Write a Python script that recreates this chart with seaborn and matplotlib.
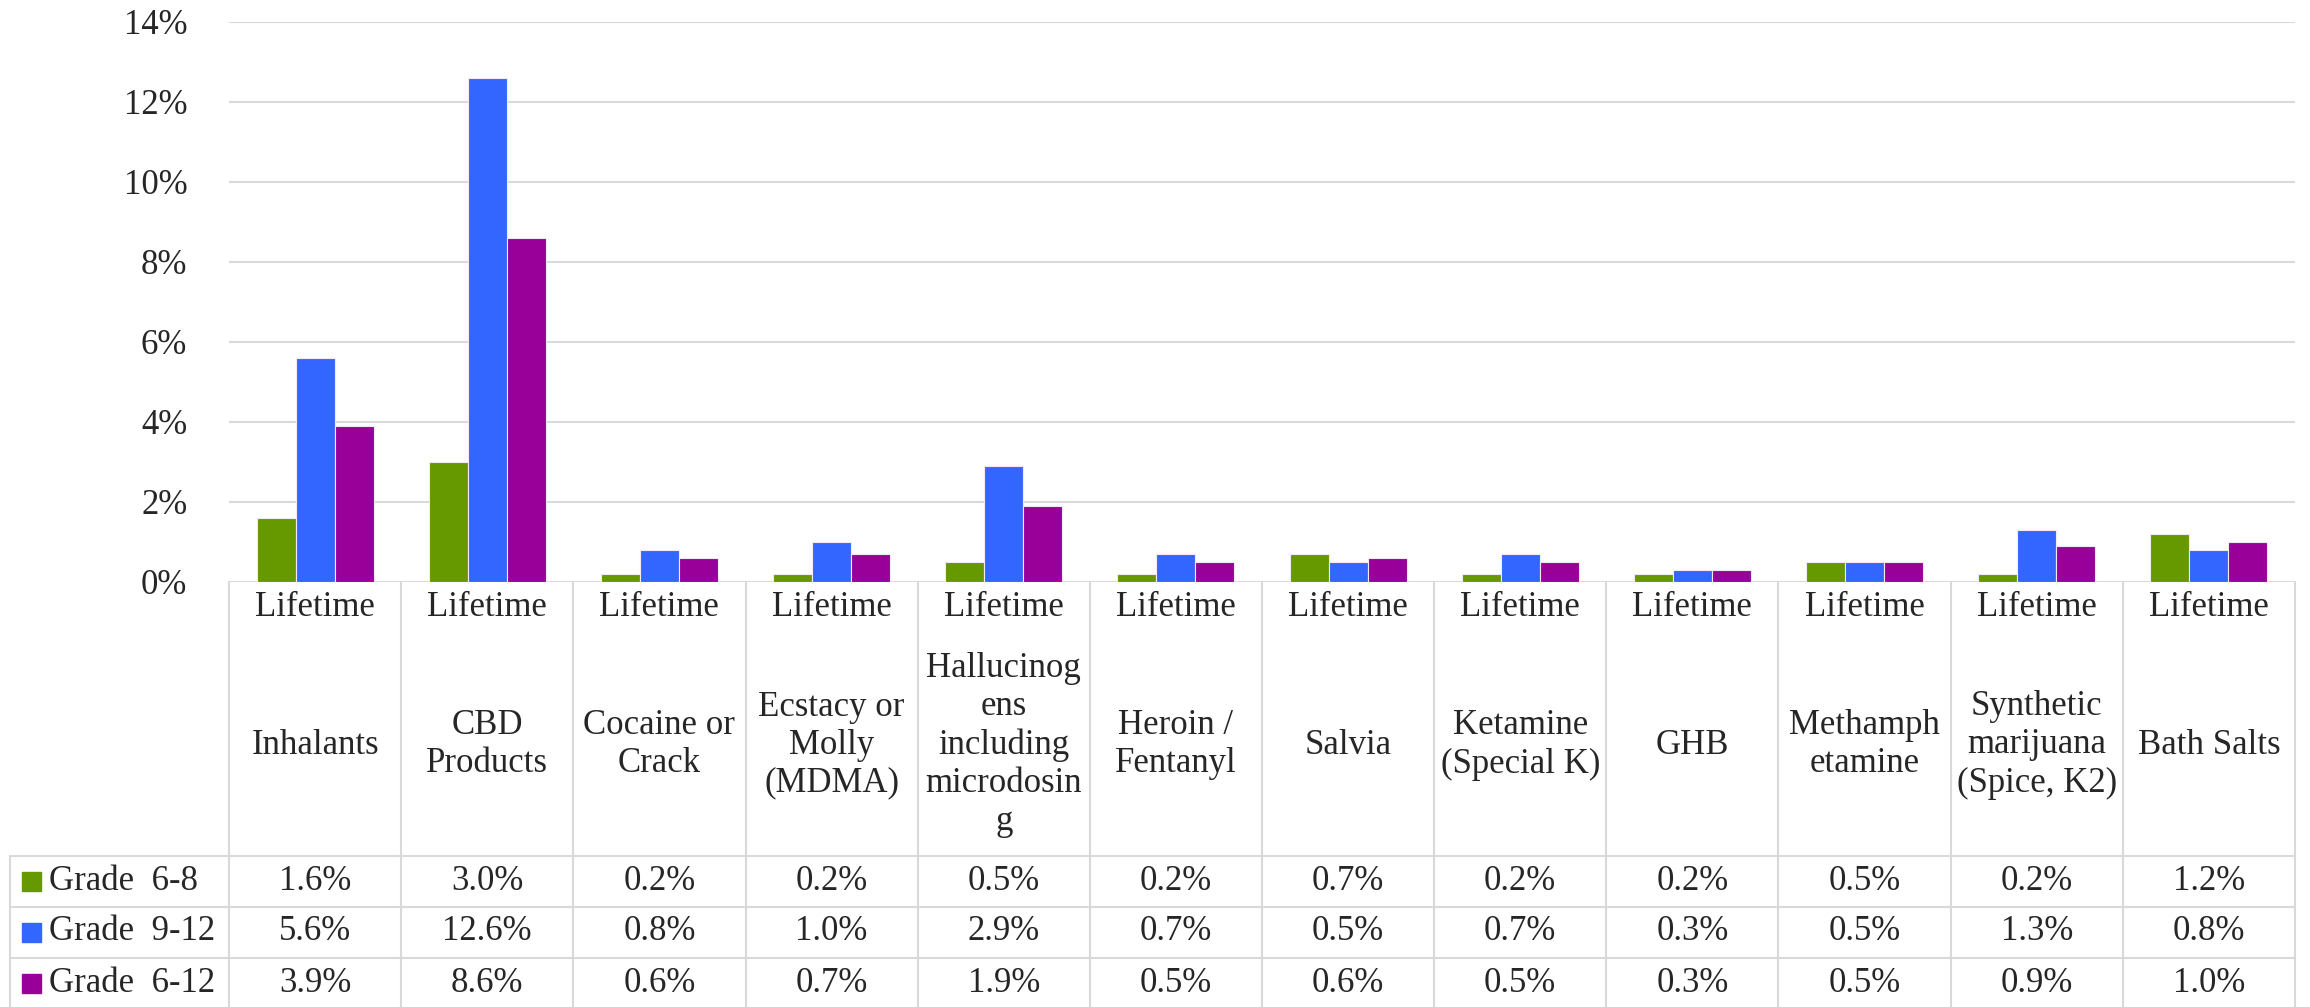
import pandas as pd
import seaborn as sns
import numpy as np
import matplotlib.pyplot as plt
import matplotlib.transforms as mtrans

drugs = ["Inhalants", "CBD\nProducts", "Cocaine or\nCrack", "Ecstacy or\nMolly\n(MDMA)",
         "Hallucinog\nens\nincluding\nmicrodosin\ng", "Heroin /\nFentanyl", "Salvia",
         "Ketamine\n(Special K)", "GHB", "Methamph\netamine",
         "Synthetic\nmarijuana\n(Spice, K2)", "Bath Salts"]
period = "Lifetime"
grades = ["Grade  6-8", "Grade  9-12", "Grade  6-12"]
grade_6_8 = [1.6, 3.0, 0.2, 0.2, 0.5, 0.2, 0.7, 0.2, 0.2, 0.5, 0.2, 1.2]
grade_9_12 = [5.6, 12.6, 0.8, 1.0, 2.9, 0.7, 0.5, 0.7, 0.3, 0.5, 1.3, 0.8]
grade_6_12 = [3.9, 8.6, 0.6, 0.7, 1.9, 0.5, 0.6, 0.5, 0.3, 0.5, 0.9, 1.0]
colors = ["#669900", "#3366FF", "#990099"]

series = [grade_6_8, grade_9_12, grade_6_12]
rows = []
for g, vals in zip(grades, series):
    for d, v in zip(drugs, vals):
        rows.append({"drug": d, "grade": g, "value": v})
df = pd.DataFrame(rows)

sns.set_style("white")
plt.rcParams['font.family'] = ['Liberation Serif', 'DejaVu Serif']
FS = 25
GRID = "#D9D9D9"

W, H = 2310, 1007
fig = plt.figure(figsize=(W / 100, H / 100), dpi=100)
x0, x1, y0, y1 = 229, 2295, 582, 22
ax = fig.add_axes([x0 / W, 1 - y0 / H, (x1 - x0) / W, (y0 - y1) / H])

sns.barplot(data=df, x="drug", y="value", hue="grade", order=drugs, hue_order=grades,
            palette=colors, saturation=1, width=0.68, gap=0, edgecolor="#F4E8F4",
            linewidth=0.8, legend=False, ax=ax, zorder=3)

ax.set_xlim(-0.5, len(drugs) - 0.5)
ax.set_ylim(0, 14)
ax.set_yticks(np.arange(0, 15, 2))
ax.set_yticklabels([f"{int(t)}%" for t in np.arange(0, 15, 2)], fontsize=FS)
ax.tick_params(axis="y", length=0, pad=30)
ax.set_xticks([])
ax.set_xlabel("")
ax.set_ylabel("")
for s in ax.spines.values():
    s.set_visible(False)
ax.yaxis.grid(True, color=GRID, linewidth=1.5, zorder=0)
ax.set_axisbelow(True)

# data table under the axis
ph = y0 - y1
def fy(py):
    return (y0 - py) / ph
def fx(px):
    return (px - x0) / (x1 - x0)

blend = mtrans.blended_transform_factory(ax.transData, ax.transAxes)
lw = 1.5
n = len(drugs)
for i in range(n + 1):
    ax.plot([i - 0.5, i - 0.5], [fy(y0), fy(H + 5)], transform=blend, color=GRID,
            lw=lw, clip_on=False)
ax.plot([fx(10), fx(10)], [fy(856), fy(H + 5)], transform=ax.transAxes, color=GRID,
        lw=lw, clip_on=False)
for py in [856, 907, 958]:
    ax.plot([fx(10), 1], [fy(py), fy(py)], transform=ax.transAxes, color=GRID,
            lw=lw, clip_on=False)

for i, d in enumerate(drugs):
    ax.text(i, fy(608), period, transform=blend, ha="center", va="center", fontsize=FS)
    ax.text(i, fy(745), d, transform=blend, ha="center", va="center", fontsize=FS,
            linespacing=1.2)

row_y = [881, 932, 983]
for g, vals, c, py in zip(grades, series, colors, row_y):
    ax.add_patch(plt.Rectangle((fx(22), fy(py + 10)), fx(41) - fx(22), fy(py - 9) - fy(py + 10),
                               transform=ax.transAxes, color=c, clip_on=False))
    ax.text(fx(49), fy(py), g, transform=ax.transAxes, ha="left", va="center", fontsize=FS)
    for i, v in enumerate(vals):
        ax.text(i, fy(py), f"{v:.1f}%", transform=blend, ha="center", va="center",
                fontsize=FS)

fig.savefig("out.png", dpi=100)
